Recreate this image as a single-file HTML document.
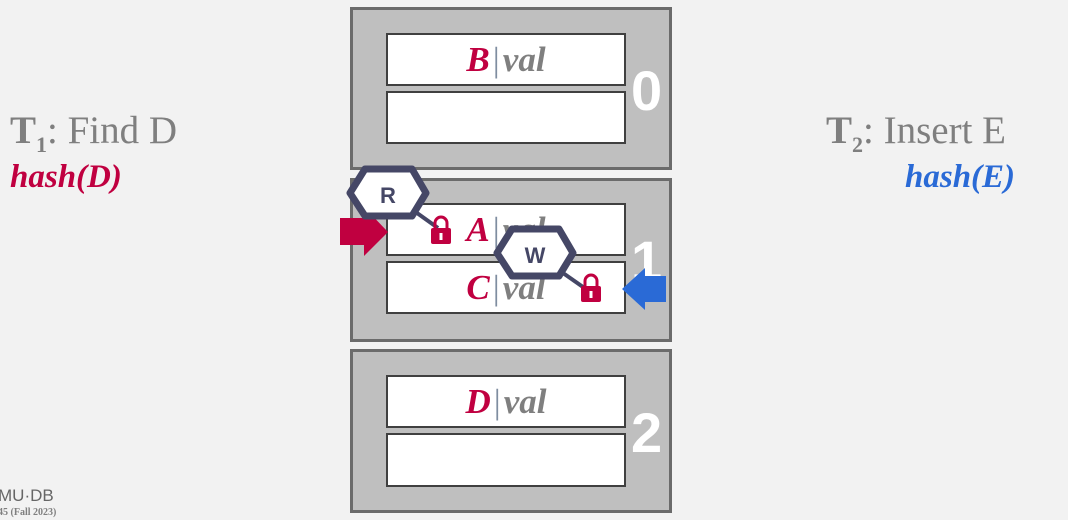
<!DOCTYPE html>
<html><head><meta charset="utf-8"><style>
body{margin:0;width:1068px;height:520px;background:#f2f2f2;overflow:hidden;position:relative;font-family:"Liberation Serif",serif}
.bucket{position:absolute;left:350px;width:322px;background:#bfbfbf;border:3px solid #6b6b6b;box-sizing:border-box}
.slot{position:absolute;left:386px;width:240px;background:#fff;border:2px solid #404040;box-sizing:border-box;text-align:center;font-style:italic;font-weight:bold;font-size:35px;line-height:50px;color:#7f7f7f}
.k{color:#c00040}.bar{color:#7f8da0;font-style:normal;font-weight:normal;margin:0 3px}
.num{position:absolute;font-family:"Liberation Sans",sans-serif;font-weight:bold;font-size:56px;color:#fff;left:631px}
.t{position:absolute;font-size:39px;color:#7f7f7f}
.h{position:absolute;font-size:33px;font-style:italic;font-weight:bold}
</style></head><body>
<div class="t" style="left:10px;top:108px"><b>T</b><sub style="font-size:22px;font-weight:bold">1</sub>: Find D</div>
<div class="h" style="left:10px;top:159px;color:#c00040">hash(D)</div>
<div class="t" style="left:826px;top:108px"><b>T</b><sub style="font-size:22px;font-weight:bold">2</sub>: Insert E</div>
<div class="h" style="left:905px;top:159px;color:#2a6ad6">hash(E)</div>

<div class="bucket" style="top:7px;height:163px"></div>
<div class="bucket" style="top:178px;height:164px"></div>
<div class="bucket" style="top:349px;height:164px"></div>

<div class="slot" style="top:33px;height:53px"><span class="k">B</span><span class="bar">|</span>val</div>
<div class="slot" style="top:91px;height:53px"></div>
<div class="slot" style="top:203px;height:53px"><span class="k">A</span><span class="bar">|</span>val</div>
<div class="slot" style="top:261px;height:53px"><span class="k">C</span><span class="bar">|</span>val</div>
<div class="slot" style="top:375px;height:53px"><span class="k">D</span><span class="bar">|</span>val</div>
<div class="slot" style="top:433px;height:54px"></div>

<div class="num" style="top:58px">0</div>
<div class="num" style="top:228px">1</div>
<div class="num" style="top:400px">2</div>

<svg width="1068" height="520" style="position:absolute;left:0;top:0">
<g><polygon points="340,218 364,218 364,207 388,232 364,256 364,245 340,245" fill="#c00040"/></g>
<g><polygon points="666,276 645,276 645,268 622,289 645,310 645,302 666,302" fill="#2a6ad6"/></g>
<line x1="417" y1="213" x2="438" y2="228" stroke="#454766" stroke-width="4"/>
<line x1="563" y1="273" x2="583" y2="287" stroke="#454766" stroke-width="4"/>
<g><path d="M435,228 v-5 a6,6 0 0 1 12,0 v5" fill="none" stroke="#c00040" stroke-width="3"/><rect x="431" y="228" width="20" height="16" rx="2" fill="#c00040"/><rect x="439.5" y="233" width="3" height="7" fill="#fff"/></g>
<g><path d="M585,286 v-5 a6,6 0 0 1 12,0 v5" fill="none" stroke="#c00040" stroke-width="3"/><rect x="581" y="286" width="20" height="16" rx="2" fill="#c00040"/><rect x="589.5" y="291" width="3" height="7" fill="#fff"/></g>
<g><polygon points="350,193 365,169 412,169 426,193 412,216 365,216" fill="#fff" stroke="#454766" stroke-width="7" stroke-linejoin="round"/><text x="388" y="203" text-anchor="middle" font-family="Liberation Sans,sans-serif" font-weight="bold" font-size="22" fill="#454766">R</text></g>
<g><polygon points="497,253 512,229 559,229 573,253 559,276 512,276" fill="#fff" stroke="#454766" stroke-width="7" stroke-linejoin="round"/><text x="535" y="263" text-anchor="middle" font-family="Liberation Sans,sans-serif" font-weight="bold" font-size="22" fill="#454766">W</text></g>
</svg>
<div style="position:absolute;left:-2px;top:486px;font-family:'Liberation Sans',sans-serif;font-size:17px;color:#666">MU·DB</div>
<div style="position:absolute;left:-2px;top:507px;font-size:10px;font-weight:bold;color:#7f7f7f">45 (Fall 2023)</div>
</body></html>
